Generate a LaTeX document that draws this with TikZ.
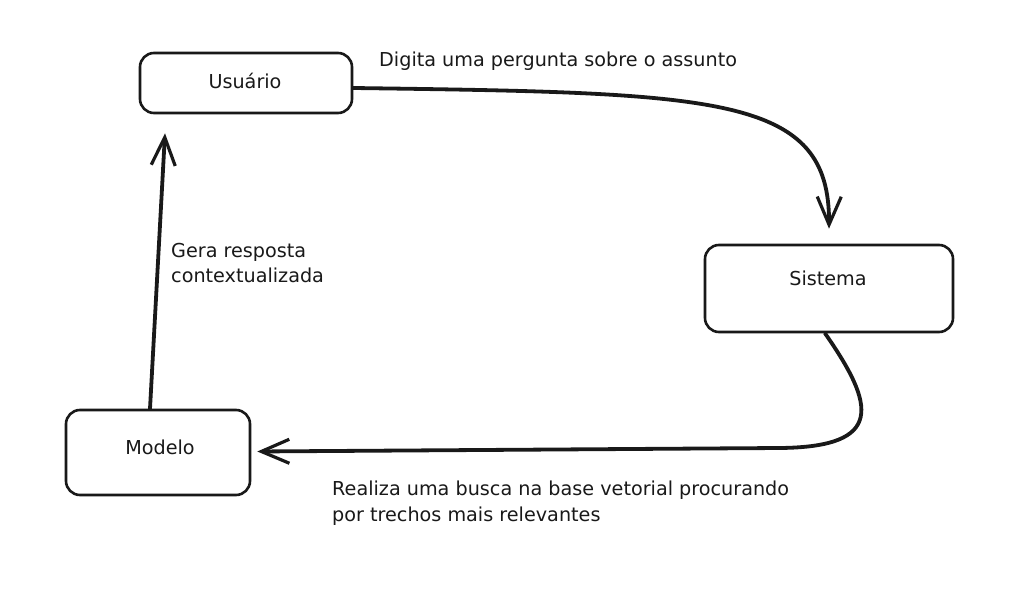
\documentclass[tikz,border=0pt]{standalone}
\usepackage{fontspec}
\setmainfont{DejaVu Sans}
\usetikzlibrary{arrows.meta}
\begin{document}
\begin{tikzpicture}[x=1pt,y=-1pt,
  box/.style={draw=black!90, line width=2.6pt, rounded corners=14pt, fill=white, inner sep=0pt},
  txt/.style={font=\fontsize{19.2}{25.5}\selectfont, text=black!90, inner sep=0pt, align=left},
  arr/.style={draw=black!90, line width=3.8pt, line cap=round,
    -{Straight Barb[length=28pt,width=24pt,line width=3.2pt]}}]
\useasboundingbox[fill=white] (0,0) rectangle (1018,609);

% boxes
\node[box, minimum width=212pt, minimum height=60pt] (usuario) at (246,83) {};
\node[box, minimum width=248pt, minimum height=87pt] (sistema) at (829,288.5) {};
\node[box, minimum width=184pt, minimum height=85pt] (modelo) at (158,452.5) {};

% box texts
\node[txt] (usuarioT) at (245,81) {Usuário};
\node[txt] (sistemaT) at (828,278) {Sistema};
\node[txt] (modeloT) at (160,447) {Modelo};

% connectors
\draw[arr] ([yshift=-5pt]usuario.east) .. controls (720,93) and (830,95) .. ([yshift=15pt]sistema.north);
\draw[arr] ([xshift=-4pt]sistema.south) .. controls (875,405) and (885,447) .. (780,448)
  -- ([xshift=6pt,yshift=1pt]modelo.east);
\draw[arr] ([xshift=-8pt]modelo.north) -- ([xshift=-81pt,yshift=-19pt]usuario.south);

% connector labels
\node[txt, anchor=west] (l1) at (379,61) {Digita uma pergunta sobre o assunto};
\node[txt, anchor=north west] (l2) at (171,243) {Gera resposta\\contextualizada};
\node[txt, anchor=north west] (l3) at (332,481) {Realiza uma busca na base vetorial procurando\\por trechos mais relevantes};
\end{tikzpicture}
\end{document}
